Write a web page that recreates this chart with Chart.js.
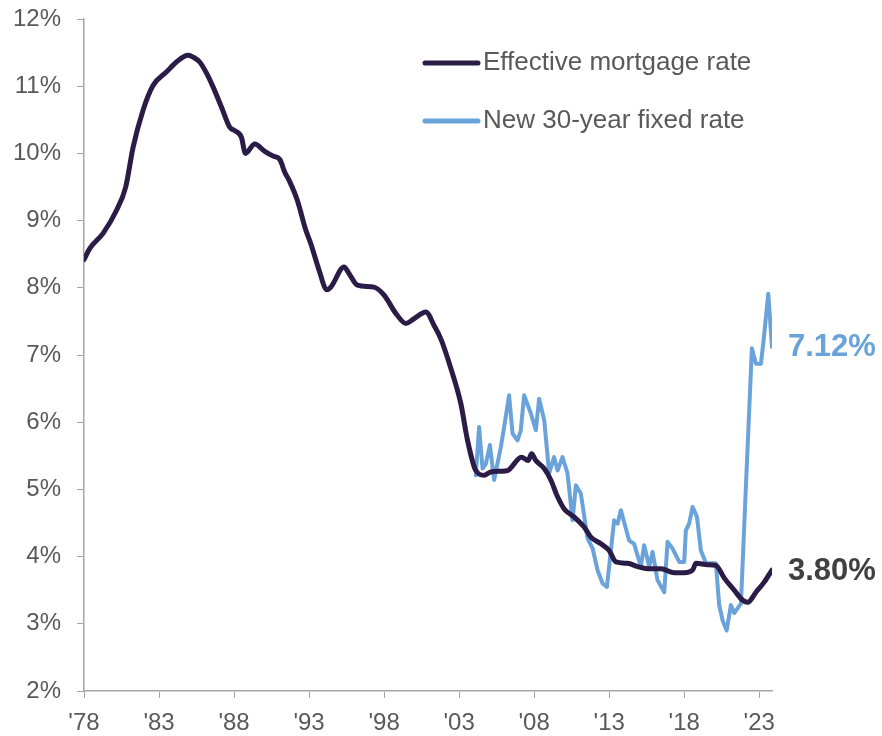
<!DOCTYPE html>
<html>
<head>
<meta charset="utf-8">
<title>Mortgage rates</title>
<script src="https://cdn.jsdelivr.net/npm/chart.js@4/dist/chart.umd.min.js"></script>
<style>
  html, body { margin: 0; padding: 0; background: #fff; }
  #wrap { width: 882px; height: 736px; }
</style>
</head>
<body>
<div id="wrap"><canvas id="rateChart"></canvas></div>
<script>
"use strict";

// Effective rate on all outstanding mortgages (%)
var effectiveYears = [
	1978.0, 1978.4, 1979.27, 1980.16, 1980.78, 1981.27, 1981.93, 1982.6, 1983.49, 1984.16,
	1984.93, 1985.3, 1985.71, 1986.2, 1986.6, 1987.16, 1987.71, 1988.05, 1988.49, 1988.76,
	1989.38, 1990.05, 1990.6, 1991.05, 1991.38, 1991.71, 1992.22, 1992.78, 1993.11, 1993.67,
	1994.18, 1994.45, 1995.33, 1995.67, 1996.22, 1997.33, 1998.0, 1998.78, 1999.45, 1999.99,
	2000.78, 2001.33, 2001.78, 2002.45, 2003.11, 2003.56, 2004.11, 2004.67, 2005.11, 2005.78,
	2006.22, 2007.15, 2007.6, 2007.83, 2008.11, 2008.67, 2009.11, 2009.56, 2010.0, 2010.66,
	2011.33, 2011.78, 2012.45, 2013.0, 2013.45, 2014.22, 2014.9, 2015.56, 2016.45, 2017.33,
	2018.0, 2018.56, 2018.78, 2019.56, 2020.11, 2020.67, 2021.33, 2021.9, 2022.23, 2022.78,
	2023.33, 2023.85
];
var effectiveRates = [
	8.42, 8.59, 8.81, 9.15, 9.50, 10.09, 10.64, 11.01, 11.21, 11.36,
	11.46, 11.43, 11.36, 11.18, 10.99, 10.69, 10.39, 10.34, 10.24, 10.00,
	10.14, 10.03, 9.96, 9.91, 9.72, 9.58, 9.30, 8.86, 8.66, 8.26,
	7.97, 8.01, 8.31, 8.21, 8.04, 8.01, 7.89, 7.62, 7.47, 7.54,
	7.64, 7.44, 7.24, 6.80, 6.28, 5.73, 5.28, 5.21, 5.26, 5.27,
	5.28, 5.48, 5.43, 5.53, 5.43, 5.31, 5.14, 4.89, 4.71, 4.59,
	4.44, 4.29, 4.19, 4.09, 3.92, 3.90, 3.85, 3.82, 3.82, 3.76,
	3.76, 3.80, 3.90, 3.88, 3.87, 3.68, 3.50, 3.35, 3.32, 3.47,
	3.62, 3.80
];

// Rate on a new 30-year fixed mortgage (%)
var fixedYears = [
	2004.11, 2004.33, 2004.56, 2004.78, 2005.05, 2005.33, 2005.78, 2006.0, 2006.33, 2006.56,
	2006.89, 2007.11, 2007.33, 2007.78, 2008.11, 2008.33, 2008.67, 2009.0, 2009.33, 2009.56,
	2009.89, 2010.22, 2010.56, 2010.78, 2011.11, 2011.56, 2011.9, 2012.22, 2012.56, 2012.85,
	2013.33, 2013.56, 2013.78, 2014.33, 2014.66, 2015.11, 2015.33, 2015.67, 2015.89, 2016.22,
	2016.67, 2016.89, 2017.22, 2017.67, 2018.0, 2018.11, 2018.33, 2018.56, 2018.85, 2019.11,
	2019.45, 2020.11, 2020.33, 2020.56, 2020.83, 2021.11, 2021.33, 2021.78, 2022.11, 2022.51,
	2022.78, 2023.11, 2023.29, 2023.6, 2023.85
];
var fixedRates = [
	5.21, 5.93, 5.31, 5.38, 5.66, 5.14, 5.63, 5.93, 6.40, 5.83,
	5.73, 5.88, 6.40, 6.13, 5.88, 6.35, 6.03, 5.24, 5.48, 5.28,
	5.48, 5.24, 4.54, 5.06, 4.94, 4.27, 4.12, 3.80, 3.60, 3.55,
	4.54, 4.49, 4.69, 4.24, 4.19, 3.85, 4.17, 3.85, 4.07, 3.65,
	3.47, 4.22, 4.12, 3.92, 3.92, 4.39, 4.49, 4.74, 4.59, 4.09,
	3.90, 3.90, 3.28, 3.05, 2.90, 3.28, 3.16, 3.30, 5.04, 7.10,
	6.87, 6.87, 7.22, 7.91, 7.12
];

var tickYears = [1978, 1983, 1988, 1993, 1998, 2003, 2008, 2013, 2018, 2023];
var seriesNames = ['Effective mortgage rate', 'New 30-year fixed rate'];

var darkColor = '#2b1b47';
var blueColor = '#6aa3da';
var axisColor = '#a6a6a6';
var textColor = '#595959';
var fontName = '"Liberation Sans", Arial, sans-serif';

function toPoints(xs, ys) {
	var pts = [];
	for (var i = 0; i < xs.length; i++) {
		pts.push({ x: xs[i], y: ys[i] });
	}
	return pts;
}

// legend drawn in the upper right of the plot
var legendPlugin = {
	id: 'cornerLegend',
	afterDraw: function (chart) {
		var ctx = chart.ctx;
		ctx.save();
		ctx.font = '26px ' + fontName;
		ctx.textBaseline = 'middle';
		ctx.lineCap = 'round';
		chart.data.datasets.forEach(function (ds, i) {
			var y = 63 + i * 58;
			ctx.strokeStyle = ds.borderColor;
			ctx.lineWidth = 5;
			ctx.beginPath();
			ctx.moveTo(425, y);
			ctx.lineTo(478, y);
			ctx.stroke();
			ctx.fillStyle = textColor;
			ctx.fillText(ds.label, 483, y);
		});
		ctx.restore();
	}
};

// latest value printed to the right of each line
var endLabelPlugin = {
	id: 'endLabels',
	afterDraw: function (chart) {
		var ctx = chart.ctx;
		var yScale = chart.scales.y;
		var colors = ['#404040', blueColor];
		ctx.save();
		ctx.font = 'bold 31px ' + fontName;
		ctx.textBaseline = 'middle';
		chart.data.datasets.forEach(function (ds, i) {
			var last = ds.data[ds.data.length - 1];
			ctx.fillStyle = colors[i];
			ctx.fillText(last.y.toFixed(2) + '%', chart.chartArea.right + 16, yScale.getPixelForValue(last.y) + 1);
		});
		ctx.restore();
	}
};

const context = document.getElementById('rateChart');
const myChart = new Chart(context, {
	type: 'line',
	data: {
		datasets: [{
			label: seriesNames[0],
			data: toPoints(effectiveYears, effectiveRates),
			borderColor: darkColor,
			borderWidth: 5,
			cubicInterpolationMode: 'monotone',
			pointRadius: 0,
			borderJoinStyle: 'round',
			borderCapStyle: 'round'
		}, {
			label: seriesNames[1],
			data: toPoints(fixedYears, fixedRates),
			borderColor: blueColor,
			borderWidth: 4,
			tension: 0,
			pointRadius: 0,
			borderJoinStyle: 'round',
			borderCapStyle: 'round'
		}]
	},
	plugins: [legendPlugin, endLabelPlugin],
	options: {
		responsive: true,
		maintainAspectRatio: false,
		animation: false,
		layout: {
			padding: { top: 19, right: 110, bottom: 0, left: 0 }
		},
		plugins: {
			legend: { display: false },
			tooltip: { enabled: false }
		},
		scales: {
			x: {
				type: 'linear',
				min: 1978,
				max: 2023.85,
				afterBuildTicks: function (axis) {
					axis.ticks = tickYears.map(function (v) { return { value: v }; });
				},
				afterFit: function (axis) {
					axis.height = 45;
					axis.paddingLeft = 0;
					axis.paddingRight = 0;
				},
				grid: { drawOnChartArea: false, color: axisColor, tickLength: 7 },
				border: { color: axisColor, width: 1.5 },
				ticks: {
					color: textColor,
					font: { family: fontName, size: 24 },
					padding: 11,
					maxRotation: 0,
					autoSkip: false,
					callback: function (v) { return "'" + String(v).slice(2); }
				}
			},
			y: {
				min: 2,
				max: 12,
				afterFit: function (axis) {
					axis.width = 84;
					axis.paddingTop = 0;
					axis.paddingBottom = 0;
				},
				grid: { drawOnChartArea: false, color: axisColor, tickLength: 7 },
				border: { color: axisColor, width: 1.5 },
				ticks: {
					stepSize: 1,
					color: textColor,
					font: { family: fontName, size: 24 },
					padding: 16,
					callback: function (v) { return v + '%'; }
				}
			}
		}
	}
});
</script>
</body>
</html>
